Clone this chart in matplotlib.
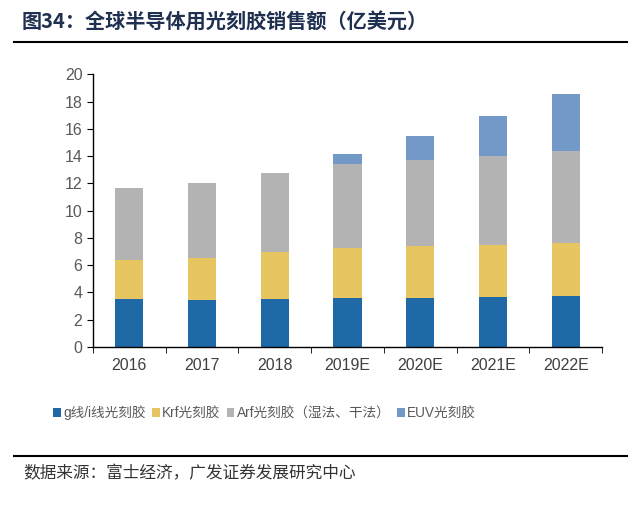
import numpy as np
import matplotlib.pyplot as plt
import matplotlib.lines as mlines

plt.rcParams['font.family'] = ['Liberation Sans', 'Noto Sans CJK SC', 'DejaVu Sans']

# 数据（亿美元）
years = ['2016', '2017', '2018', '2019E', '2020E', '2021E', '2022E']
g_i_line = [3.48, 3.41, 3.48, 3.56, 3.61, 3.68, 3.75]
krf = [2.86, 3.12, 3.49, 3.70, 3.80, 3.80, 3.90]
arf = [5.31, 5.49, 5.80, 6.17, 6.31, 6.54, 6.73]
euv = [0, 0, 0, 0.71, 1.76, 2.92, 4.15]

labels = ['g线/i线光刻胶', 'Krf光刻胶', 'Arf光刻胶（湿法、干法）', 'EUV光刻胶']
colors = ['#1F69A6', '#E7C560', '#B3B3B3', '#7399C9']

fig = plt.figure(figsize=(6.4, 5.05), dpi=100)
ax = fig.add_axes([0.145, 0.313, 0.796, 0.540])

x = np.arange(len(years))
bottom = np.zeros(len(years))
series = [g_i_line, krf, arf, euv]
for vals, lab, col in zip(series, labels, colors):
    ax.bar(x, vals, width=0.39, bottom=bottom, color=col, label=lab)
    bottom += np.array(vals)

ax.set_xlim(-0.5, len(years) - 0.5)
ax.set_ylim(0, 20)
ax.set_yticks(range(0, 21, 2))
ax.set_xticks(x)
ax.set_xticklabels(years)
ax.set_xticks(np.arange(-0.5, len(years)), minor=True)
ax.tick_params(axis='x', which='major', length=0, pad=8, labelsize=11.5, colors='#404040')
ax.tick_params(axis='x', which='minor', length=4, direction='out', color='black')
ax.tick_params(axis='y', length=4, direction='out', labelsize=11.5, labelcolor='#595959')
for s in ['top', 'right']:
    ax.spines[s].set_visible(False)
ax.spines['left'].set_linewidth(1.0)
ax.spines['bottom'].set_linewidth(1.0)

leg = ax.legend(loc='upper center', bbox_to_anchor=(0.337, -0.215), ncol=4, frameon=False,
                fontsize=9.8, handlelength=0.55, handleheight=0.55, handletextpad=0.15,
                columnspacing=0.5, labelcolor='#595959', borderaxespad=0, borderpad=0)

# 标题与来源
fig.text(0.034, 0.957, '图34：全球半导体用光刻胶销售额（亿美元）', fontsize=14.5, fontweight='bold',
         color='#1F3050', va='center', family=['Noto Sans CJK SC', 'DejaVu Sans'])
fig.add_artist(mlines.Line2D([0.022, 0.98], [0.917, 0.917], color='black', lw=1.5))
fig.add_artist(mlines.Line2D([0.022, 0.98], [0.097, 0.097], color='black', lw=1.5))
fig.text(0.036, 0.062, '数据来源：富士经济，广发证券发展研究中心', fontsize=12, color='#333333',
         va='center', family=['Noto Sans CJK SC', 'DejaVu Sans'])

fig.savefig('out.png', dpi=100)
